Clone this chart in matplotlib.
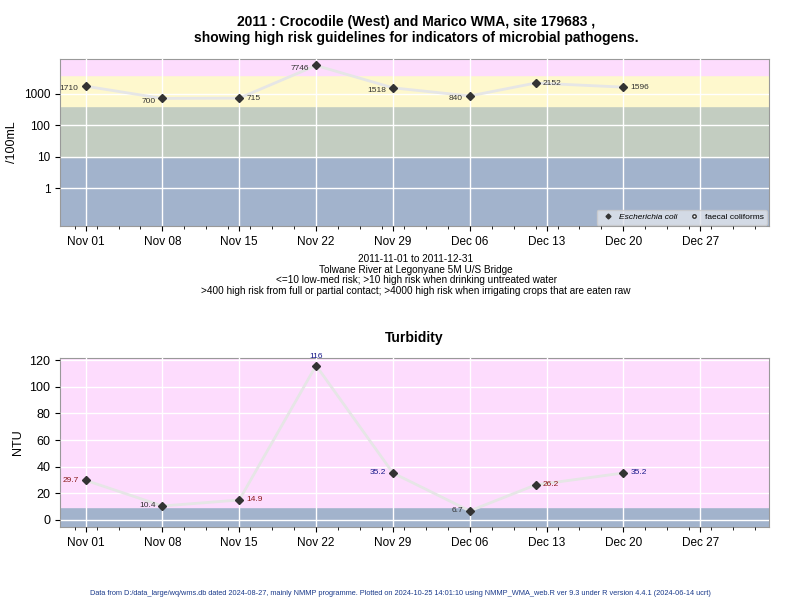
import numpy as np
import matplotlib
matplotlib.use("Agg")
import matplotlib.pyplot as plt
import matplotlib.dates as mdates
from datetime import datetime

plt.rcParams['font.family'] = ['Liberation Sans', 'DejaVu Sans']

# data
ecoli_dates = ["2011-11-01", "2011-11-08", "2011-11-15", "2011-11-22", "2011-11-29",
               "2011-12-06", "2011-12-12", "2011-12-20"]
ecoli = [1710, 700, 715, 7746, 1518, 840, 2152, 1596]
turb = [29.7, 10.4, 14.9, 116, 35.2, 6.7, 26.2, 35.2]
ecoli_lab_side = ["l", "l", "r", "l", "l", "l", "r", "r"]
turb_lab_side = ["l", "l", "r", "c", "l", "l", "r", "r"]
turb_lab_col = ["#8b1a1a", "#333333", "#8b1a1a", "#1a1a8b", "#1a1a8b", "#333333", "#8b1a1a", "#1a1a8b"]
tick_dates = ["2011-11-01", "2011-11-08", "2011-11-15", "2011-11-22", "2011-11-29",
              "2011-12-06", "2011-12-13", "2011-12-20", "2011-12-27"]

d = [datetime.strptime(s, "%Y-%m-%d") for s in ecoli_dates]
ticks = [datetime.strptime(s, "%Y-%m-%d") for s in tick_dates]
xlim = (datetime(2011, 10, 29, 16), datetime(2012, 1, 2, 6))

fig = plt.figure(figsize=(8, 6), dpi=100)

def style(ax):
    ax.set_xlim(*xlim)
    ax.set_xticks(ticks)
    ax.xaxis.set_major_formatter(mdates.DateFormatter("%b %d"))
    ax.xaxis.set_minor_locator(mdates.DayLocator(interval=2))
    ax.tick_params(axis='x', which='minor', length=2)
    ax.tick_params(labelsize=8.5)
    ax.grid(True, color='white', lw=1)
    ax.set_axisbelow(False)
    for s in ax.spines.values():
        s.set_color('#999999')

def lab(ax, x, y, t, side, col, dy=0):
    if side == "l":
        ax.annotate(t, (x, y), xytext=(-5, dy), textcoords='offset points', ha='right', va='center', fontsize=6, color=col)
    elif side == "r":
        ax.annotate(t, (x, y), xytext=(5, dy), textcoords='offset points', ha='left', va='center', fontsize=6, color=col)
    else:
        ax.annotate(t, (x, y), xytext=(0, 4), textcoords='offset points', ha='center', va='bottom', fontsize=6, color=col)

# top panel
ax1 = fig.add_axes([0.075, 0.623, 0.886, 0.279])
ax1.set_yscale('log')
ax1.set_ylim(0.063, 12600)
ax1.axhspan(0.01, 10, color='#a2b3cc', zorder=0)
ax1.axhspan(10, 400, color='#c3cdc1', zorder=0)
ax1.axhspan(400, 4000, color='#fef8cd', zorder=0)
ax1.axhspan(4000, 1e5, color='#fddcfd', zorder=0)
style(ax1)
ax1.set_yticks([1, 10, 100, 1000])
ax1.set_yticklabels(["1", "10", "100", "1000"])
ax1.yaxis.set_minor_locator(matplotlib.ticker.NullLocator())
ax1.plot(d, ecoli, color='#e6e6e6', lw=2, zorder=3)
ax1.plot(d, ecoli, 'D', color='#333333', ms=4, zorder=4)
for x, y, s in zip(d, ecoli, ecoli_lab_side):
    lab(ax1, x, y, str(y), s, '#333333', dy=-2 if s == "l" else 0)
ax1.set_ylabel("/100mL", fontsize=9)
leg1 = ax1.legend(handles=[
    plt.Line2D([], [], marker='D', color='#333333', ls='none', ms=2.5, label='Escherichia coli'),
    plt.Line2D([], [], marker='o', mfc='white', mec='#333333', ls='none', ms=2.5, label='faecal coliforms')],
    loc='lower right', ncol=2, fontsize=6, frameon=True, borderaxespad=0.2, handletextpad=0.3, columnspacing=1)
leg1.get_frame().set_facecolor('#e0e4ec')
leg1.get_frame().set_edgecolor('#cccccc')
leg1.get_texts()[0].set_style('italic')

fig.text(0.52, 0.975, "2011 : Crocodile (West) and Marico WMA, site 179683 ,\nshowing high risk guidelines for indicators of microbial pathogens.",
         ha='center', va='top', fontsize=10, fontweight='bold')
fig.text(0.52, 0.577, "2011-11-01 to 2011-12-31\nTolwane River at Legonyane 5M U/S Bridge\n<=10 low-med risk; >10 high risk when drinking untreated water\n>400 high risk from full or partial contact; >4000 high risk when irrigating crops that are eaten raw",
         ha='center', va='top', fontsize=7.2, linespacing=1.1)

# bottom panel
ax2 = fig.add_axes([0.075, 0.122, 0.886, 0.281])
ax2.set_ylim(-5.25, 121.5)
ax2.axhspan(-10, 10, color='#a2b3cc', zorder=0)
ax2.axhspan(10, 200, color='#fddcfd', zorder=0)
style(ax2)
ax2.set_yticks(range(0, 121, 20))
ax2.tick_params(axis='y', labelsize=9)
ax2.plot(d, turb, color='#e6e6e6', lw=2, zorder=3)
ax2.plot(d, turb, 'D', color='#333333', ms=4, zorder=4)
for x, y, s, c in zip(d, turb, turb_lab_side, turb_lab_col):
    lab(ax2, x, y, str(y), s, c)
ax2.set_ylabel("NTU", fontsize=9)
ax2.set_title("Turbidity", fontsize=10, fontweight='bold', pad=12)

fig.text(0.5, 0.005, "Data from D:/data_large/wq/wms.db dated 2024-08-27, mainly NMMP programme. Plotted on 2024-10-25 14:01:10 using NMMP_WMA_web.R ver 9.3 under R version 4.4.1 (2024-06-14 ucrt)",
         ha='center', va='bottom', fontsize=5.3, color='#1a3a8b')

fig.savefig("out.png", dpi=100)
